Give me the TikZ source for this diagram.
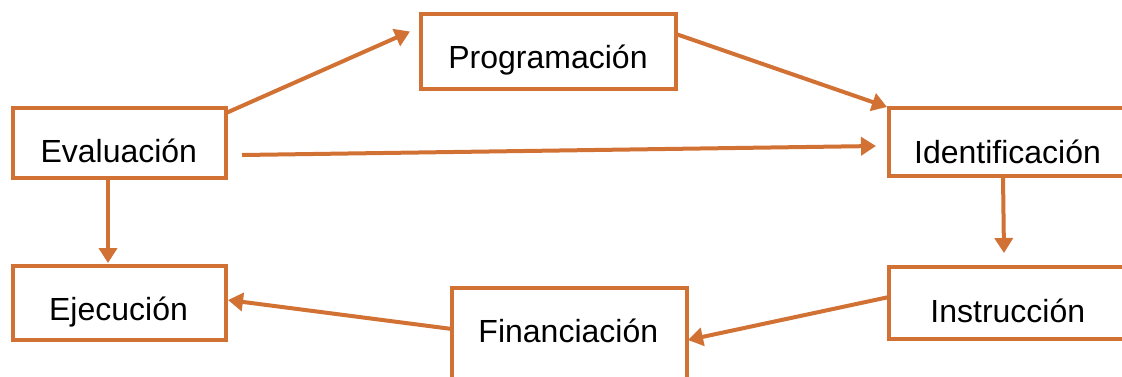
\documentclass[tikz,border=0pt]{standalone}
\usepackage{fontspec}
\setmainfont{Liberation Sans}
\usetikzlibrary{arrows.meta,calc}
\definecolor{boxorange}{HTML}{D27134}
\begin{document}
\begin{tikzpicture}[x=1pt,y=-1pt,
  box/.style={draw=boxorange,line width=3.5pt,fill=white,inner sep=0pt,outer sep=0pt,rectangle},
  lbl/.style={anchor=base,inner sep=0pt,font=\fontsize{32}{37}\selectfont},
  conn/.style={draw=boxorange,line width=4pt,-{Triangle[length=15pt,width=18pt]}}]
\clip (0,0) rectangle (1122,376);
\fill[white] (0,0) rectangle (1122,376);
% boxes
\node[box,minimum width=255pt,minimum height=75pt] (prog) at (548.5,51.5) {};
\node[box,minimum width=213pt,minimum height=70pt] (eva) at (119.5,143) {};
\node[box,minimum width=236pt,minimum height=68pt] (iden) at (1007,142) {};
\node[box,minimum width=213pt,minimum height=74pt] (ejec) at (119.5,303) {};
\node[box,minimum width=235pt,minimum height=96pt] (fin) at (569.5,336) {};
\node[box,minimum width=236pt,minimum height=72pt] (inst) at (1007,303) {};
% labels
\node[lbl] (tprog) at (548,68) {Programación};
\node[lbl] (teva) at (118.8,162.5) {Evaluación};
\node[lbl] (tiden) at (1007.5,163.3) {Identificación};
\node[lbl] (tejec) at (118.5,320.5) {Ejecución};
\node[lbl] (tfin) at (568.3,342.5) {Financiación};
\node[lbl] (tinst) at (1007.8,322) {Instrucción};
% connectors
\draw[conn] ($(eva.north east)+(0,5)$) -- ($(prog.west)+(-11,-20)$);
\draw[conn] ($(prog.north east)+(0,20)$) -- ($(iden.north west)+(-2,-1)$);
\draw[conn] ($(eva.east)+(16,12)$) -- ($(iden.west)+(-13,4)$);
\draw[conn] ($(eva.south)+(-11.5,0)$) -- ($(ejec.north)+(-11.5,-3)$);
\draw[conn] ($(iden.south)+(-4,0)$) -- ($(inst.north)+(-3,-14)$);
\draw[conn] ($(inst.west)+(0,-6)$) -- ($(fin.east)+(1,4)$);
\draw[conn] ($(fin.west)+(0,-7)$) -- ($(ejec.east)+(2,-3)$);
\end{tikzpicture}
\end{document}
